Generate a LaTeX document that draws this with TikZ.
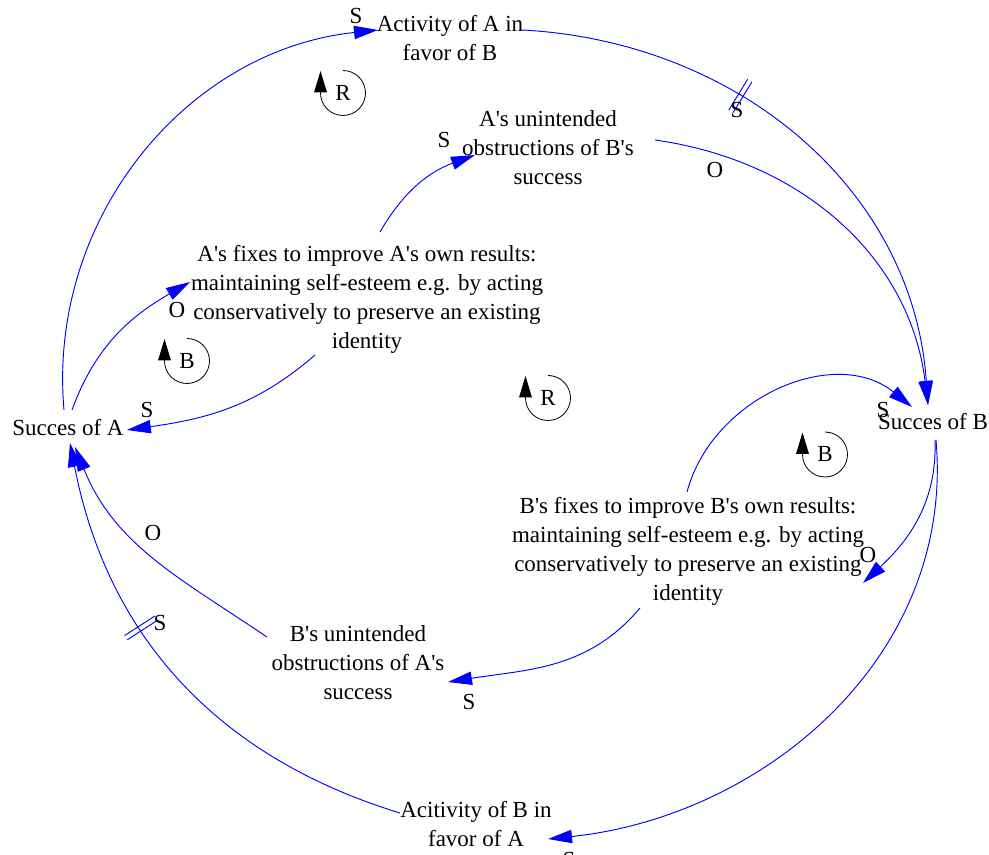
\documentclass[tikz,border=0pt]{standalone}
\usepackage{fontspec}
\setmainfont{Liberation Serif}[Ligatures=TeXOff]
\usetikzlibrary{arrows.meta,calc,decorations.markings}

\begin{document}
\begin{tikzpicture}[x=0.75pt,y=0.75pt,font=\fontsize{17.25}{21.75}\selectfont,
 var/.style={align=center,inner sep=0pt},
 pol/.style={inner sep=0pt},
 link/.style={draw=blue,line width=0.7pt,-{Triangle[length=18pt,width=10pt]}},
 loopsym/.style={draw=black,line width=0.6pt,-{Triangle[length=16pt,width=9.5pt]}},
 delay/.style={postaction={decorate,decoration={markings,mark=at position #1 with {\draw[-,blue,line width=0.7pt] (-2.5,-18)--(-2.5,18) (2.5,-18)--(2.5,18);}}}}]
\useasboundingbox (0,0) rectangle (989,854);
\node[var] (actA) at (450,816) {Activity of A in\\favor of B};
\node[var] (obsA) at (548,706) {A's unintended\\obstructions of B's\\success};
\node[var] (fixA) at (367,554.5) {A's fixes to improve A's own results:\\maintaining self-esteem e.g. by acting\\conservatively to preserve an existing\\identity};
\node[var] (sA) at (68,426) {Succes of A};
\node[var] (sB) at (933,432) {Succes of B};
\node[var] (fixB) at (688,302.5) {B's fixes to improve B's own results:\\maintaining self-esteem e.g. by acting\\conservatively to preserve an existing\\identity};
\node[var] (obsB) at (358,191.5) {B's unintended\\obstructions of A's\\success};
\node[var] (actB) at (476,30) {Acitivity of B in\\favor of A};
\draw[link] ($(sA)+(-4,18)$) to[out=95,in=186] ($(actA)+(-72,8)$);
\draw[link,delay=0.38] ($(actA)+(72,8)$) to[out=-3,in=94] ($(sB)+(-5,17)$);
\draw[link] ($(fixA)+(13,67.5)$) to[out=60,in=200] ($(obsA)+(-73,-7)$);
\draw[link] ($(obsA)+(107,8)$) to[out=-8,in=97] ($(sB)+(-5,17)$);
\draw[link] ($(sA)+(4,18)$) to[out=70,in=210] ($(fixA)+(-177,17.5)$);
\draw[link] ($(fixA)+(-52,-55.5)$) to[out=221,in=8] ($(sA.east)+(3,-2)$);
\draw[link] ($(fixB)+(-1,59.5)$) to[out=75,in=141,looseness=1.05] ($(sB)+(-21,15)$);
\draw[link] ($(sB)+(2,-18)$) to[out=-88,in=43] ($(fixB)+(175,-31.5)$);
\draw[link] ($(fixB)+(-48,-56.5)$) to[out=230,in=9] ($(obsB)+(90,-19.5)$);
\draw[link] ($(obsB)+(-91,25.5)$) to[out=146,in=-68] ($(sA)+(7,-19)$);
\draw[link] ($(sB)+(3,-18)$) to[out=-85,in=6] ($(actB)+(72,-15)$);
\draw[link,delay=0.62] ($(actB)+(-76,11)$) to[out=163,in=-79] ($(sA)+(2,-15)$);
\node[pol] (pS1) at (356,838) {S};
\node[pol] (pS2) at (737,744) {S};
\node[pol] (pO1) at (715,684) {O};
\node[pol] (pS3) at (444,714) {S};
\node[pol] (pO2) at (177,544) {O};
\node[pol] (pS4) at (147,444) {S};
\node[pol] (pS5) at (883,444) {S};
\node[pol] (pO3) at (868,299) {O};
\node[pol] (pS6) at (469,152) {S};
\node[pol] (pO4) at (153,321) {O};
\node[pol] (pS7) at (160,231) {S};
\node[pol] (pS8) at (569,-6) {S};
\node[pol] (rA) at (343,761) {R};
\node[pol] (bA) at (187,493) {B};
\node[pol] (rAB) at (548,456) {R};
\node[pol] (bB) at (825,399.5) {B};
\foreach \l in {rA,bA,rAB,bB}
  \draw[loopsym] ($(\l)+(0,22.5)$) arc[start angle=90,end angle=-180,radius=22.5] -- ++(0,22);
\end{tikzpicture}
\end{document}
